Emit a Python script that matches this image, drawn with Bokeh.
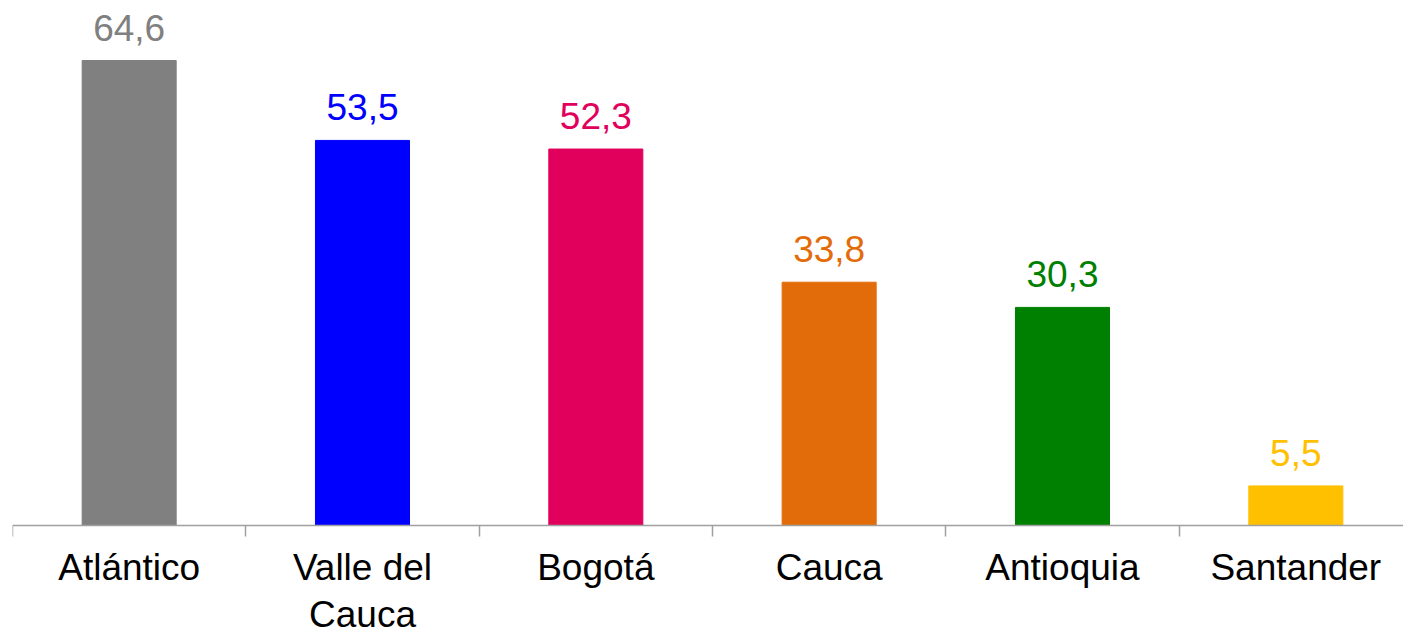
from bokeh.plotting import figure
from bokeh.models import ColumnDataSource, LabelSet, Range1d, FixedTicker
from bokeh.core.properties import value
from bokeh.embed import file_html
from bokeh.resources import INLINE

categories = ["Atlántico", "Valle del Cauca", "Bogotá", "Cauca", "Antioquia", "Santander"]
category_labels = ["Atlántico", "Valle del\nCauca", "Bogotá", "Cauca", "Antioquia", "Santander"]
values = [64.6, 53.5, 52.3, 33.8, 30.3, 5.5]
value_labels = ["64,6", "53,5", "52,3", "33,8", "30,3", "5,5"]
colors = ["#808080", "#0000FF", "#E1005C", "#E36C0A", "#008000", "#FFC000"]

FONT = "Liberation Sans"
n = len(categories)
positions = list(range(n))                      # category slots
boundaries = [i - 0.5 for i in range(n + 1)]    # slot edges (tick marks)

W, H = 1403, 627
left_px, axis_px = 12, 525          # frame left edge, axis line position (pixels)
slot_px = 233.33                    # pixels per category slot
unit_px = 7.198                     # pixels per value unit

src = ColumnDataSource(dict(x=positions, cat=categories, val=values,
                            vlab=value_labels, color=colors))

p = figure(x_range=Range1d(-0.5, -0.5 + (W - left_px) / slot_px),
           y_range=Range1d(-(H - axis_px) / unit_px, axis_px / unit_px),
           width=W, height=H,
           output_backend="svg", toolbar_location=None, y_axis_location=None,
           min_border_left=left_px, min_border_right=0, min_border_top=0, min_border_bottom=0)
p.outline_line_color = None
p.xgrid.visible = False
p.ygrid.visible = False

p.vbar(x="x", top="val", width=0.403, color="color", source=src)

ax = p.xaxis[0]
ax.fixed_location = 0
ax.ticker = FixedTicker(ticks=positions, minor_ticks=boundaries)
ax.major_label_overrides = {i: lab for i, lab in zip(positions, category_labels)}
ax.major_label_text_font = FONT
ax.major_label_text_font_size = "37px"
ax.major_label_text_color = "#000000"
ax.major_label_text_line_height = 1.17
ax.major_label_standoff = 10
ax.major_tick_out = 0
ax.major_tick_in = 0
ax.minor_tick_out = 11
ax.minor_tick_in = 0
ax.axis_line_color = "#A0A0A0"
ax.axis_line_width = 1.5
ax.minor_tick_line_color = "#A0A0A0"
ax.minor_tick_line_width = 1.5

p.add_layout(LabelSet(x="x", y="val", text="vlab", source=src, y_offset=20,
                      text_align="center", text_baseline="alphabetic",
                      text_font=value(FONT), text_font_size=value("37px"), text_color="color"))

open("out.html", "w").write(file_html(p, INLINE))
